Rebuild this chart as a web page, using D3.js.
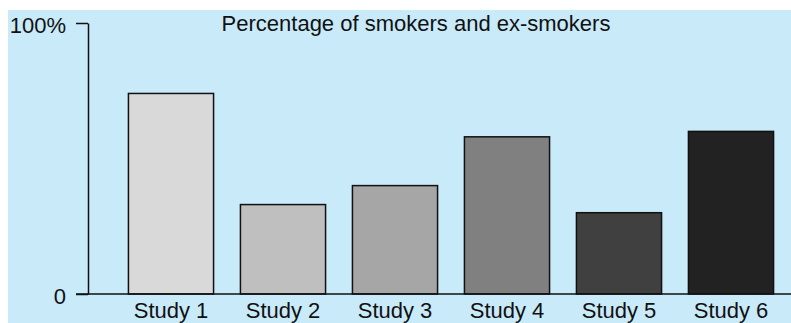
<!DOCTYPE html>
<html>
<head>
<meta charset="utf-8">
<script src="https://cdn.jsdelivr.net/npm/d3@7"></script>
<style>
  html, body { margin: 0; padding: 0; background: #ffffff; }
  svg { display: block; font-family: "Liberation Sans", Arial, Helvetica, sans-serif; }
</style>
</head>
<body>
<svg id="chart" width="791" height="323"></svg>
<script>
// Study categories and the share (%) of smokers and ex-smokers in each
const studies = ["Study 1", "Study 2", "Study 3", "Study 4", "Study 5", "Study 6"];
const smokerPct = [74, 33, 40, 58, 30, 60];
const barFills = ["#d9d9d9", "#bfbfbf", "#a6a6a6", "#808080", "#404040", "#222222"];
const yTicks = [0, 100];
const yTickLabels = ["0", "100%"];
const chartTitle = "Percentage of smokers and ex-smokers";

const svg = d3.select("#chart");
const W = 791, H = 323;
const FONT = "22px";

// light blue panel
svg.append("rect")
  .attr("x", 8).attr("y", 10)
  .attr("width", W - 8).attr("height", H - 10)
  .attr("fill", "#c8eaf9");

const x = d3.scaleBand()
  .domain(studies)
  .range([115, 787])
  .paddingInner(0.24)
  .paddingOuter(0.12);

const y = d3.scaleLinear()
  .domain([0, 100])
  .range([294, 23]);

const data = studies.map((s, i) => ({ study: s, value: smokerPct[i], fill: barFills[i] }));

// bars
svg.append("g")
  .selectAll("rect")
  .data(data)
  .join("rect")
  .attr("x", d => x(d.study))
  .attr("y", d => y(d.value))
  .attr("width", x.bandwidth())
  .attr("height", d => y(0) - y(d.value))
  .attr("fill", d => d.fill)
  .attr("stroke", "#111")
  .attr("stroke-width", 1.5);

// baseline across the plot
svg.append("line")
  .attr("x1", 76).attr("x2", W)
  .attr("y1", y(0)).attr("y2", y(0))
  .attr("stroke", "#111").attr("stroke-width", 1.5);

// y axis
const yAxis = d3.axisLeft(y)
  .tickValues(yTicks)
  .tickFormat((d, i) => yTickLabels[i])
  .tickSizeInner(12)
  .tickSizeOuter(0)
  .tickPadding(10);

const gy = svg.append("g")
  .attr("transform", "translate(88,0)")
  .call(yAxis);
gy.select(".domain").attr("stroke", "#111").attr("stroke-width", 1.5);
gy.selectAll(".tick line").attr("stroke", "#111").attr("stroke-width", 1.5);
gy.selectAll(".tick text")
  .attr("fill", "#111")
  .style("font-size", FONT)
  .attr("dy", "0.43em");

// x axis labels
const xAxis = d3.axisBottom(x).tickSize(0).tickPadding(8);
const gx = svg.append("g")
  .attr("transform", `translate(0,${y(0)})`)
  .call(xAxis);
gx.select(".domain").remove();
gx.selectAll(".tick text")
  .attr("fill", "#111")
  .style("font-size", FONT);

// title
svg.append("text")
  .attr("x", 416)
  .attr("y", 31)
  .attr("text-anchor", "middle")
  .attr("fill", "#111")
  .style("font-size", FONT)
  .text(chartTitle);
</script>
</body>
</html>
